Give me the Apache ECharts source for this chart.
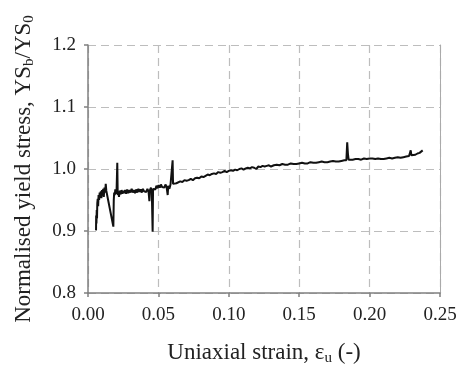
<!DOCTYPE html>
<html><head><meta charset="utf-8">
<script src="https://cdn.jsdelivr.net/npm/echarts@6/dist/echarts.min.js"></script>
<style>html,body{margin:0;padding:0;background:#fff}#c{width:461px;height:367px}</style>
</head><body><div id="c"></div>
<script>
const strain = [0.0057,0.0058,0.0060,0.0062,0.0064,0.0066,0.0069,0.0072,0.0075,0.0079,0.0083,0.0087,0.0091,0.0095,0.0099,0.0103,0.0108,0.0112,0.0117,0.0122,0.0126,0.0130,
0.0180,0.0183,0.0186,0.0190,0.0194,0.0198,0.0203,0.0208,0.0211,0.0215,0.0220,0.0226,0.0232,0.0238,0.0244,0.0250,0.0257,0.0264,0.0271,0.0278,0.0286,0.0294,0.0302,0.0310,0.0318,0.0326,0.0334,0.0342,0.0350,0.0358,0.0366,0.0374,0.0382,0.0390,0.0398,0.0406,0.0414,0.0422,0.0430,0.0436,0.0440,0.0447,0.0453,0.0459,0.0462,0.0470,0.0478,0.0486,0.0494,0.0502,0.0510,0.0518,0.0526,0.0534,0.0542,0.0550,0.0558,0.0566,0.0570,0.0578,0.0586,0.0594,0.0601,
0.0604,0.0615,0.0628,0.0640,0.0655,0.0670,0.0685,0.0700,0.0715,0.0730,0.0745,0.0760,0.0775,0.0790,0.0805,0.0820,0.0835,0.0850,0.0865,0.0880,0.0895,0.0910,0.0925,0.0940,0.0955,0.0970,0.0985,0.1000,
0.1015,0.1030,0.1045,0.1060,0.1075,0.1090,0.1105,0.1120,0.1135,0.1150,0.1165,0.1180,0.1195,0.1210,0.1225,0.1240,0.1255,0.1270,0.1285,0.1300,
0.1320,0.1340,0.1360,0.1380,0.1400,0.1420,0.1440,0.1460,0.1480,0.1500,0.1520,0.1540,0.1560,0.1580,0.1600,0.1620,0.1640,0.1660,0.1680,0.1700,0.1720,0.1740,0.1760,0.1780,0.1800,0.1820,0.1835,
0.1841,0.1846,0.1851,0.1865,0.1880,0.1900,0.1920,0.1940,0.1960,0.1980,0.2000,0.2020,0.2040,0.2060,0.2080,0.2100,0.2120,0.2140,0.2160,0.2180,0.2200,0.2220,0.2240,0.2260,0.2280,0.2292,0.2297,0.2310,0.2325,0.2340,0.2355,0.2365,0.2377];
const yieldRatio = [0.901,0.925,0.912,0.934,0.920,0.945,0.952,0.940,0.958,0.950,0.962,0.955,0.964,0.953,0.966,0.957,0.968,0.955,0.970,0.962,0.976,0.965,
0.907,0.950,0.962,0.958,0.967,0.960,0.966,1.010,0.958,0.963,0.955,0.965,0.959,0.966,0.960,0.965,0.961,0.966,0.960,0.967,0.961,0.966,0.962,0.968,0.962,0.966,0.961,0.967,0.962,0.968,0.963,0.967,0.962,0.968,0.964,0.967,0.963,0.968,0.964,0.948,0.966,0.970,0.964,0.899,0.968,0.971,0.967,0.973,0.969,0.974,0.970,0.975,0.971,0.974,0.970,0.975,0.971,0.958,0.973,0.968,0.975,0.972,1.014,
0.976,0.978,0.977,0.979,0.980,0.979,0.982,0.981,0.982,0.984,0.982,0.985,0.986,0.985,0.988,0.987,0.989,0.991,0.990,0.992,0.993,0.992,0.995,0.994,0.995,0.997,0.995,0.997,
0.998,0.997,0.999,0.998,1.000,1.001,0.999,1.001,1.002,1.001,1.003,1.002,1.000,1.004,1.003,1.005,1.004,1.005,1.006,1.004,
1.006,1.007,1.006,1.008,1.007,1.007,1.009,1.008,1.008,1.009,1.010,1.009,1.009,1.011,1.010,1.010,1.011,1.012,1.011,1.011,1.012,1.013,1.012,1.012,1.013,1.014,1.014,
1.043,1.025,1.015,1.016,1.015,1.016,1.016,1.015,1.017,1.016,1.017,1.017,1.016,1.017,1.016,1.016,1.017,1.018,1.017,1.018,1.019,1.018,1.019,1.020,1.021,1.030,1.022,1.024,1.023,1.025,1.026,1.028,1.030];
const xTicks = [0, 0.05, 0.10, 0.15, 0.20, 0.25];
const yTicks = [0.8, 0.9, 1.0, 1.1, 1.2];

const font = '"Liberation Serif", "Times New Roman", serif';
const chart = echarts.init(document.getElementById('c'), null, {renderer: 'canvas'});
const data = strain.map((s, i) => [s, yieldRatio[i]]);
chart.setOption({
  animation: false,
  backgroundColor: '#fff',
  grid: {left: 88, right: 21, top: 45, bottom: 74, containLabel: false, outerBoundsMode: 'none'},
  xAxis: {
    type: 'value', min: xTicks[0], max: xTicks[xTicks.length - 1], interval: 0.05,
    name: 'Uniaxial strain, ε{sub|u} (-)',
    nameLocation: 'middle', nameGap: 47,
    nameTextStyle: {fontFamily: font, fontSize: 23, color: '#222',
      rich: {sub: {fontFamily: font, fontSize: 15, color: '#222', padding: [11, 0, 0, 0]}}},
    axisLine: {show: true, lineStyle: {color: '#808080', width: 1.5}},
    axisTick: {show: true, inside: false, length: 4, lineStyle: {color: '#808080', width: 1.5}},
    axisLabel: {fontFamily: font, fontSize: 19, color: '#222', margin: 13, formatter: v => v.toFixed(2)},
    splitLine: {show: true, lineStyle: {color: '#bdbdbd', type: [8, 5], width: 1.2}}
  },
  yAxis: [{
    type: 'value', min: yTicks[0], max: yTicks[yTicks.length - 1], interval: 0.1,
    name: 'Normalised yield stress, YS{sub|b}/YS{sub|0}',
    nameLocation: 'middle', nameGap: 51,
    nameTextStyle: {fontFamily: font, fontSize: 23, color: '#222',
      rich: {sub: {fontFamily: font, fontSize: 15, color: '#222', padding: [11, 0, 0, 0]}}},
    axisLine: {show: true, lineStyle: {color: '#808080', width: 1.5}},
    axisTick: {show: true, inside: false, length: 4, lineStyle: {color: '#808080', width: 1.5}},
    axisLabel: {fontFamily: font, fontSize: 19, color: '#222', margin: 12, formatter: v => v.toFixed(1)},
    splitLine: {show: true, lineStyle: {color: '#bdbdbd', type: [8, 5], width: 1.2}}
  }, {
    type: 'value', position: 'right', min: yTicks[0], max: yTicks[yTicks.length - 1], interval: 0.1,
    axisLine: {show: true, lineStyle: {color: '#aaaaaa', width: 1}},
    axisTick: {show: false}, axisLabel: {show: false}, splitLine: {show: false}
  }],
  series: [{
    type: 'line', data: data, showSymbol: false, symbol: 'none',
    lineStyle: {color: '#111', width: 2}, clip: true
  }]
});
</script></body></html>
